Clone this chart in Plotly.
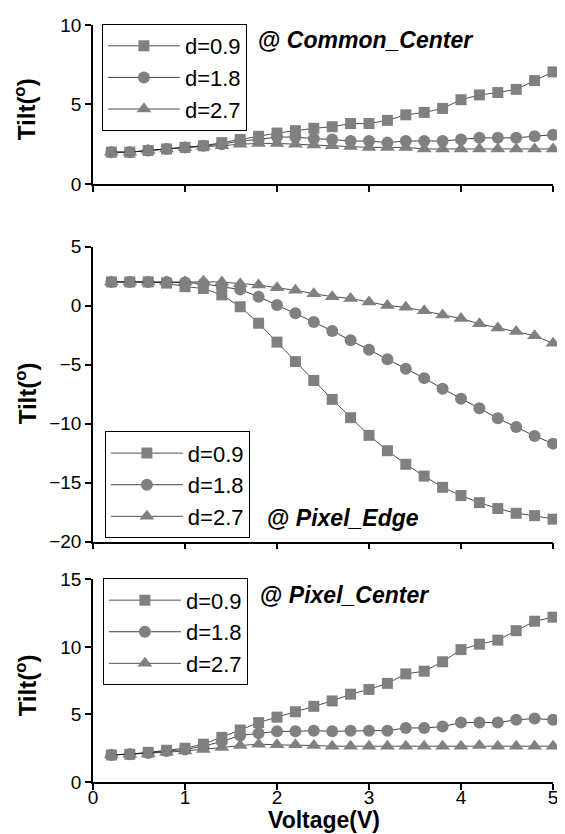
import plotly.graph_objects as go

voltage = [0.2, 0.4, 0.6, 0.8, 1.0, 1.2, 1.4, 1.6, 1.8, 2.0, 2.2, 2.4, 2.6, 2.8, 3.0,
           3.2, 3.4, 3.6, 3.8, 4.0, 4.2, 4.4, 4.6, 4.8, 5.0]
series_names = ["d=0.9", "d=1.8", "d=2.7"]

# Common_Center
cc_d09 = [2.0, 2.0, 2.1, 2.2, 2.3, 2.4, 2.6, 2.8, 3.0, 3.2, 3.35, 3.5, 3.6, 3.8, 3.8,
          4.0, 4.35, 4.5, 4.75, 5.3, 5.6, 5.75, 5.95, 6.5, 7.05]
cc_d18 = [2.0, 2.0, 2.1, 2.2, 2.3, 2.4, 2.5, 2.7, 2.8, 2.95, 2.95, 2.85, 2.8, 2.7, 2.7,
          2.6, 2.7, 2.7, 2.7, 2.8, 2.9, 2.9, 2.9, 3.0, 3.1]
cc_d27 = [2.0, 2.0, 2.1, 2.2, 2.3, 2.35, 2.4, 2.5, 2.55, 2.55, 2.5, 2.45, 2.4, 2.35, 2.3,
          2.3, 2.3, 2.2, 2.2, 2.2, 2.2, 2.2, 2.2, 2.2, 2.2]

# Pixel_Edge
pe_d09 = [2.0, 2.0, 2.0, 1.9, 1.6, 1.45, 0.9, -0.1, -1.5, -3.1, -4.75, -6.35, -7.95, -9.5, -11.0,
          -12.3, -13.45, -14.45, -15.4, -16.1, -16.7, -17.2, -17.6, -17.8, -18.1]
pe_d18 = [2.0, 2.0, 2.0, 2.0, 1.95, 1.85, 1.6, 1.35, 0.75, 0.05, -0.65, -1.4, -2.15, -2.95, -3.75,
          -4.55, -5.35, -6.15, -7.05, -7.9, -8.7, -9.55, -10.3, -11.05, -11.7]
pe_d27 = [2.0, 2.0, 2.0, 2.0, 2.0, 2.05, 2.0, 1.85, 1.75, 1.5, 1.3, 1.0, 0.75, 0.6, 0.3,
          0.0, -0.15, -0.45, -0.8, -1.1, -1.55, -1.9, -2.2, -2.55, -3.2]

# Pixel_Center
pc_d09 = [2.0, 2.05, 2.2, 2.35, 2.5, 2.8, 3.3, 3.85, 4.4, 4.8, 5.2, 5.6, 6.0, 6.5, 6.85,
          7.3, 8.0, 8.2, 8.9, 9.8, 10.2, 10.5, 11.2, 11.9, 12.2]
pc_d18 = [2.0, 2.05, 2.15, 2.3, 2.4, 2.65, 3.0, 3.45, 3.6, 3.75, 3.75, 3.8, 3.75, 3.8, 3.8,
          3.8, 4.0, 4.0, 4.1, 4.4, 4.4, 4.4, 4.6, 4.7, 4.6]
pc_d27 = [2.0, 2.05, 2.1, 2.2, 2.3, 2.4, 2.55, 2.7, 2.8, 2.75, 2.75, 2.7, 2.65, 2.65, 2.65,
          2.65, 2.65, 2.65, 2.65, 2.65, 2.7, 2.65, 2.65, 2.65, 2.65]

x_ticks = [0, 1, 2, 3, 4, 5]
panels = [
    ("Common_Center", [cc_d09, cc_d18, cc_d27], [0, 10], [0, 5, 10]),
    ("Pixel_Edge", [pe_d09, pe_d18, pe_d27], [-20, 5], [-20, -15, -10, -5, 0, 5]),
    ("Pixel_Center", [pc_d09, pc_d18, pc_d27], [0, 15], [0, 5, 10, 15]),
]

symbols = ["square", "circle", "triangle-up"]
msizes = [11, 12, 13]
line_colors = ["#222222", "#111111", "#222222"]
FONT = "Liberation Sans, Arial, sans-serif"

# page geometry (pixels); the page body adds an 8px offset
OFF = 8
W, H = 565 - OFF, 834 - OFF
ml, mr, mt, mb = 93 - OFF, 7, 20 - OFF, 52
PX0, PX1 = 93, 558   # plot area in page pixels
PY0, PY1 = 20, 782

def py(pix):
    return (PY1 - pix) / (PY1 - PY0)

def px(pix):
    return (pix - PX0) / (PX1 - PX0)

domains = [[py(180), py(20)], [py(540), py(243)], [py(782), py(578)]]
legend_pos = [(px(102), py(19)), (px(105), py(429)), (px(103), py(577))]
legend_keys = ["legend", "legend2", "legend3"]

fig = go.Figure()
for i, (name, data, yr, yt) in enumerate(panels):
    ax = "" if i == 0 else str(i + 1)
    for j, ys in enumerate(data):
        fig.add_trace(go.Scatter(
            x=voltage, y=ys, name=series_names[j], mode="lines+markers",
            xaxis="x" + ax, yaxis="y" + ax, legend=legend_keys[i],
            line=dict(color=line_colors[j], width=0.8),
            marker=dict(symbol=symbols[j], size=msizes[j], color="#808080",
                        line=dict(width=0)),
            cliponaxis=False,
        ))
    axis_common = dict(showline=True, linecolor="black", linewidth=1.5,
                       ticks="outside", ticklen=6, tickwidth=1.5, tickcolor="black",
                       showgrid=False, zeroline=False,
                       tickfont=dict(family=FONT, size=19, color="black"))
    fig.layout["xaxis" + ax] = dict(axis_common, range=[0, 5], tickvals=x_ticks,
                                    showticklabels=(i == 2), anchor="y" + ax,
                                    domain=[0, 1], ticklabelstandoff=-9)
    fig.layout["yaxis" + ax] = dict(axis_common, range=yr, tickvals=yt,
                                    anchor="x" + ax, domain=domains[i])
    lx, ly = legend_pos[i]
    fig.layout[legend_keys[i]] = dict(
        x=lx, y=ly, xanchor="left", yanchor="top", xref="paper", yref="paper",
        bordercolor="black", borderwidth=1, bgcolor="white",
        font=dict(family=FONT, size=22, color="black"), tracegroupgap=0,
        itemwidth=72,
    )

annotations = [
    dict(text="<b>@ <i>Common_Center</i></b>", x=px(258), y=py(35)),
    dict(text="<b>@ <i>Pixel_Edge</i></b>", x=px(267), y=py(516)),
    dict(text="<b>@ <i>Pixel_Center</i></b>", x=px(260), y=py(594)),
]
for a in annotations:
    fig.add_annotation(text=a["text"], x=a["x"], y=a["y"], xref="paper", yref="paper",
                       xanchor="left", yanchor="middle", showarrow=False,
                       font=dict(family=FONT, size=23, color="black"))

for yc in [105, 391, 685]:
    fig.add_annotation(text="<b>Tilt(<sup>o</sup>)</b>", x=px(25), y=py(yc),
                       xref="paper", yref="paper", xanchor="center", yanchor="middle",
                       textangle=-90, showarrow=False,
                       font=dict(family=FONT, size=24, color="black"))

fig.add_annotation(text="<b>Voltage(V)</b>", x=px(327), y=py(820), xref="paper", yref="paper",
                   xanchor="center", yanchor="middle", showarrow=False,
                   font=dict(family=FONT, size=23, color="black"))

fig.update_layout(
    width=W, height=H, margin=dict(l=ml, r=mr, t=mt, b=mb),
    paper_bgcolor="white", plot_bgcolor="white", showlegend=True,
)

fig.write_html("out.html")
